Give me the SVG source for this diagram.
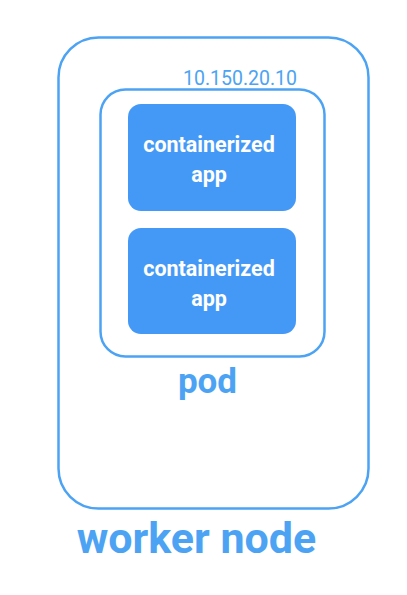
<svg xmlns="http://www.w3.org/2000/svg" width="407" height="595" viewBox="0 0 407 595">
<style>
.box{fill:none;stroke:#4da3f3;stroke-width:2.5}
.app{fill:#4499f7}
.appt{fill:#fff;font-family:Roboto,"Liberation Sans",sans-serif;font-weight:bold;font-size:21.5px;text-anchor:middle}
.lbl{fill:#4da3f3;font-family:Roboto,"Liberation Sans",sans-serif;font-weight:bold;text-anchor:middle}
</style>
<rect width="407" height="595" fill="#fff"/>
<g id="worker-node">
<rect class="box" x="58.5" y="37.5" width="310" height="471" rx="40"/>
<text class="lbl" x="196.5" y="553" font-size="43">worker node</text>
</g>
<g id="pod">
<rect class="box" x="100.5" y="89.5" width="224" height="267" rx="25"/>
<text x="240" y="85" fill="#4da3f3" font-family="Roboto,'Liberation Sans',sans-serif" font-size="19.5" text-anchor="middle">10.150.20.10</text>
<text class="lbl" x="207.5" y="393" font-size="35">pod</text>
</g>
<g id="app1">
<rect class="app" x="128" y="104" width="168" height="107" rx="13"/>
<text class="appt" x="209" y="152">containerized</text>
<text class="appt" x="209" y="182">app</text>
</g>
<g id="app2">
<rect class="app" x="128" y="228" width="168" height="106" rx="13"/>
<text class="appt" x="209" y="276">containerized</text>
<text class="appt" x="209" y="306">app</text>
</g>
<g id="connectors"></g>
</svg>
